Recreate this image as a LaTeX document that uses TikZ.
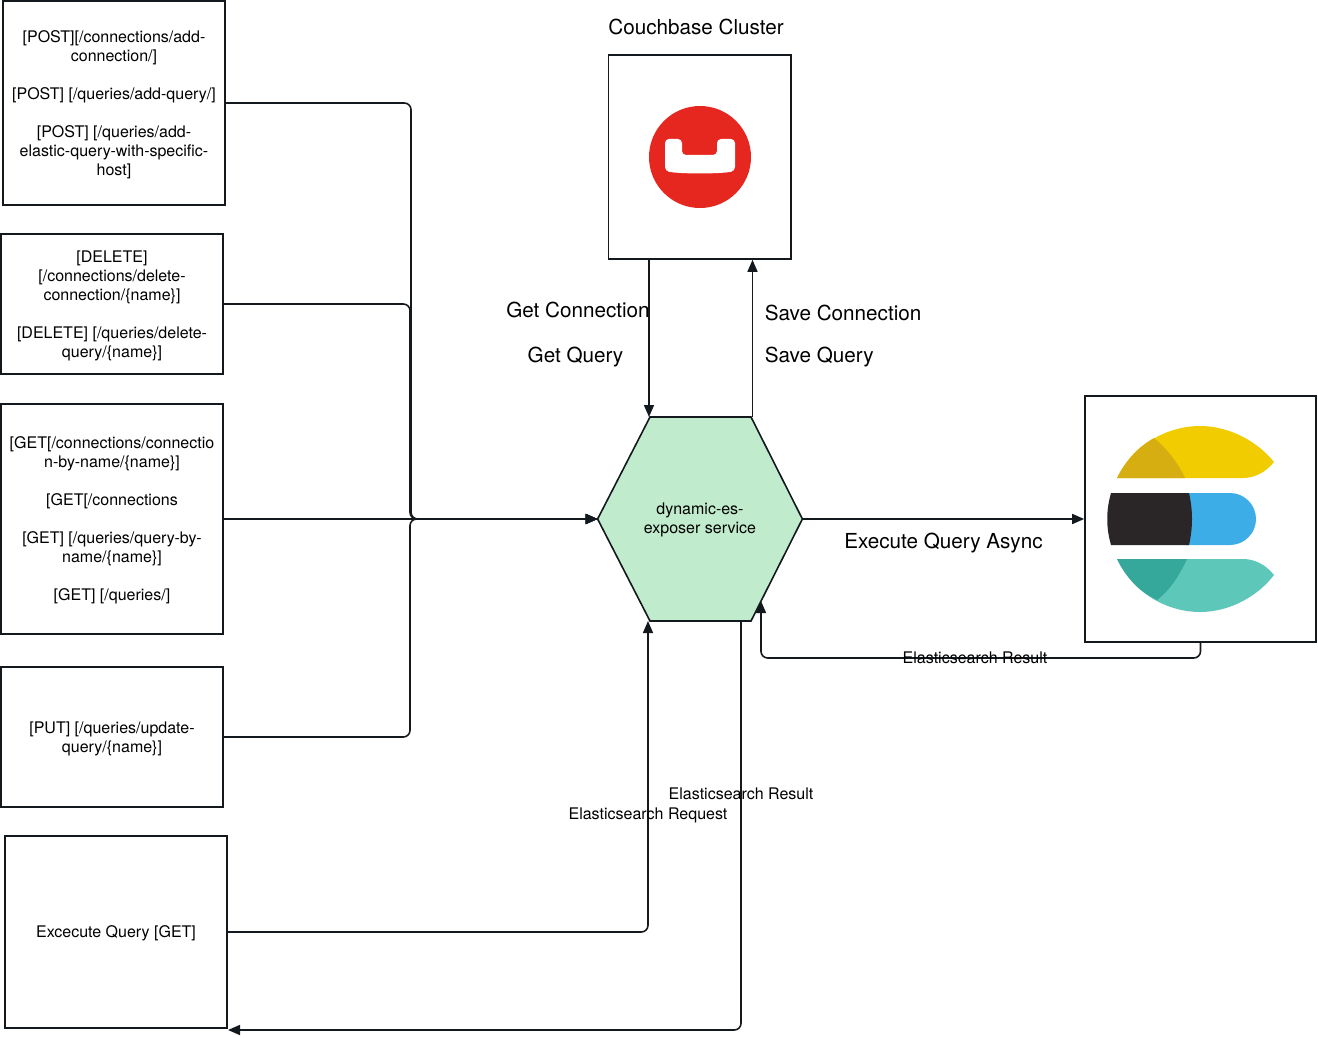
\documentclass[tikz,border=0pt]{standalone}
\usepackage{fontspec}
\setmainfont{TeX Gyre Heros}
\usetikzlibrary{arrows.meta}
\definecolor{hexgreen}{HTML}{C0EBCD}
\definecolor{cbred}{HTML}{E62720}
\definecolor{esyellow}{HTML}{F0CC00}
\definecolor{esyellowdark}{HTML}{D7AE12}
\definecolor{esblack}{HTML}{2A2627}
\definecolor{esblue}{HTML}{3DADE7}
\definecolor{esteal}{HTML}{5DC7B9}
\definecolor{estealdark}{HTML}{35A79B}
\definecolor{inkline}{HTML}{14191E}
\newcommand{\lift}{\rule{0pt}{11.3pt}}

\begin{document}
\begin{tikzpicture}[x=0.75pt,
					y=-0.75pt,
					>={Triangle[length=9pt,width=7.5pt]},
					line width=1.2pt,
					box node/.style={rectangle,draw=inkline,align=center,inner sep=0pt,
						font=\fontsize{12}{14.25}\selectfont},
					small label/.style={font=\fontsize{12}{14.25}\selectfont,inner sep=0pt},
					big label/.style={font=\fontsize{15.5}{18}\selectfont,inner sep=0pt},
					conn/.style={->,draw=inkline,rounded corners=5pt}]

  \useasboundingbox (0,0) rectangle (1318,1038);

  \node[box node,minimum width=166.5pt,minimum height=153pt] (post) at (114,103)
    {\lift[POST][/connections/add-\\connection/]\\[14.25pt]
     [POST] [/queries/add-query/]\\[14.25pt]
     [POST] [/queries/add-\\elastic-query-with-specific-\\host]};
  \node[box node,minimum width=166.5pt,minimum height=105pt] (delete) at (112,304)
    {\lift[DELETE]\\{[/connections/delete-}\\connection/\{name\}]\\[14.25pt]
     [DELETE] [/queries/delete-\\query/\{name\}]};
  \node[box node,minimum width=166.5pt,minimum height=172.5pt] (get) at (112,519)
    {\lift[GET[/connections/connectio\\n-by-name/\{name\}]\\[14.25pt]
     [GET[/connections\\[14.25pt]
     [GET] [/queries/query-by-\\name/\{name\}]\\[14.25pt]
     [GET] [/queries/]};
  \node[box node,minimum width=166.5pt,minimum height=105pt] (put) at (112,737)
    {\lift[PUT] [/queries/update-\\query/\{name\}]};
  \node[box node,minimum width=166.5pt,minimum height=144pt] (exec) at (116,932)
    {\lift Excecute Query [GET]};

  \node[minimum width=137pt,minimum height=153pt,draw=inkline,inner sep=0pt] (couch) at (699.8,157) {};
  \node[minimum width=173.25pt,minimum height=184.5pt,draw=inkline,inner sep=0pt] (elastic) at (1200.5,519) {};

  % hexagon
  \coordinate (hexnw) at (650,417);
  \coordinate (hexne) at (751,417);
  \coordinate (hexse) at (751,621);
  \coordinate (hexsw) at (650,621);
  \coordinate (buspost) at (411,519);
  \coordinate (busdel) at (410,519);
  \node[minimum width=152.4pt,minimum height=153pt,inner sep=0pt] (hex) at (700,519) {};
  \draw[fill=hexgreen,draw=inkline] (hex.west) -- (hexnw) -- (hexne) -- (hex.east)
    -- (hexse) -- (hexsw) -- cycle;
  \node[small label,align=center] (hextext) at (700,520) {dynamic-es-\\exposer service};

  % couchbase logo
  \fill[cbred] (700,157) circle[radius=51];
  \fill[white,rounded corners=3pt] (665,139) -- (682,139) -- (682,155) -- (717,155)
    -- (717,139) -- (735,139) -- (735,171) .. controls (720,174) and (680,174) .. (665,171) -- cycle;

  % elastic logo
  \fill[esyellow] (1117,478) .. controls (1135,442) and (1170,426) .. (1200,426)
    .. controls (1230,426) and (1258,442) .. (1274,462)
    .. controls (1266,472) and (1255,478) .. (1243,478) -- cycle;
  \fill[esyellowdark] (1117,478) .. controls (1126,460) and (1138,447) .. (1154,438)
    .. controls (1168,450) and (1178,463) .. (1185,478) -- cycle;
  \fill[esblue] (1185,493) -- (1230,493) arc[start angle=-90,end angle=90,radius=26] -- (1185,545) -- cycle;
  \fill[esblack] (1111,493) -- (1189,493) .. controls (1193,510) and (1193,528) .. (1189,545)
    -- (1111,545) .. controls (1106,528) and (1106,510) .. (1111,493) -- cycle;
  \fill[esteal] (1117,559) -- (1243,559) .. controls (1255,559) and (1266,565) .. (1274,575)
    .. controls (1258,596) and (1230,612) .. (1200,612)
    .. controls (1170,612) and (1135,596) .. (1117,559) -- cycle;
  \fill[estealdark] (1117,559) -- (1187,559) .. controls (1179,576) and (1170,590) .. (1157,600)
    .. controls (1138,591) and (1126,577) .. (1117,559) -- cycle;

  \coordinate (hexin) at (648,621);
  \coordinate (hexget) at (649,417);
  \coordinate (hexup) at (752.5,417);
  \coordinate (hexout) at (741,621);
  \coordinate (hexres) at (761,601);
  \coordinate (execin) at (228,1030);

  \draw[conn] (post.east) -| (buspost) -- (hex.west);
  \draw[conn] (delete.east) -| (busdel) -- (hex.west);
  \draw[conn] (get.east) -- (hex.west);
  \draw[conn] (put.east) -| (busdel) -- (hex.west);
  \draw[conn] (exec.east) -| (hexin);
  \draw[conn] (hexout) |- (execin);
  \draw[conn] (hexget |- couch.south) -- (hexget);
  \draw[conn] (hexup) -- (hexup |- couch.south);
  \draw[conn] (hex.east) -- (elastic.west);
  \draw[conn] (elastic.south) |- (761,658) -- (hexres);

  \node[big label] (cluster) at (696,27) {Couchbase Cluster};
  \node[big label,anchor=east] (getconn) at (650.5,310) {Get Connection};
  \node[big label] (getquery) at (575.5,357) {Get Query};
  \node[big label,anchor=west] (saveconn) at (764,313) {Save Connection};
  \node[big label,anchor=west] (savequery) at (764,357) {Save Query};
  \node[big label] (execasync) at (943.5,543) {Execute Query Async};
  \node[small label] (resultes) at (975,658) {Elasticsearch Result};
  \node[small label] (resultexec) at (741,793.5) {Elasticsearch Result};
  \node[small label] (request) at (648,815) {Elasticsearch Request};
\end{tikzpicture}
\end{document}
